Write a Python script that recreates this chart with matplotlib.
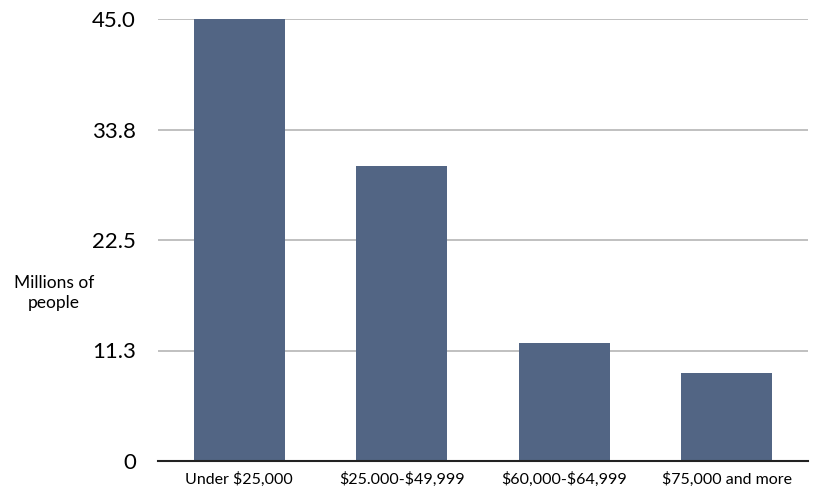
import numpy as np
import matplotlib.pyplot as plt

plt.rcParams['font.family'] = ['Lato', 'DejaVu Sans']
plt.rcParams['text.parse_math'] = False

categorias = ["Under $25,000", "$25.000-$49,999", "$60,000-$64,999", "$75,000 and more"]
valores = [45.0, 30.0, 12.0, 9.0]
ticks_y = [0, 11.25, 22.5, 33.75, 45.0]
rotulos_y = ["0", "11.3", "22.5", "33.8", "45.0"]

fig = plt.figure(figsize=(8.17, 4.91), dpi=100)
ax = fig.add_axes([158/817, 30/491, 650/817, 442/491])

x = np.arange(len(categorias))
ax.bar(x, valores, width=0.56, color="#526584", zorder=3)

ax.set_xlim(-0.5, len(categorias) - 0.5)
ax.set_ylim(0, 45.0)
ax.set_yticks(ticks_y)
ax.set_yticklabels(rotulos_y, fontsize=16)
ax.set_xticks(x)
ax.set_xticklabels(categorias, fontsize=11.5)
ax.tick_params(axis="y", length=0, pad=16)
ax.tick_params(axis="x", length=0, pad=8)

ax.grid(axis="y", color="#bbbbbb", linewidth=1.3, zorder=0)
for lado in ["left", "right", "top"]:
    ax.spines[lado].set_visible(False)
ax.spines["bottom"].set_color("#222222")
ax.spines["bottom"].set_linewidth(1.5)
ax.spines["bottom"].set_zorder(4)

fig.text(54/817, 1 - 293/491, "Millions of\npeople", ha="center", va="center",
         fontsize=12.5, linespacing=1.3)

fig.savefig("out.png", dpi=100)
